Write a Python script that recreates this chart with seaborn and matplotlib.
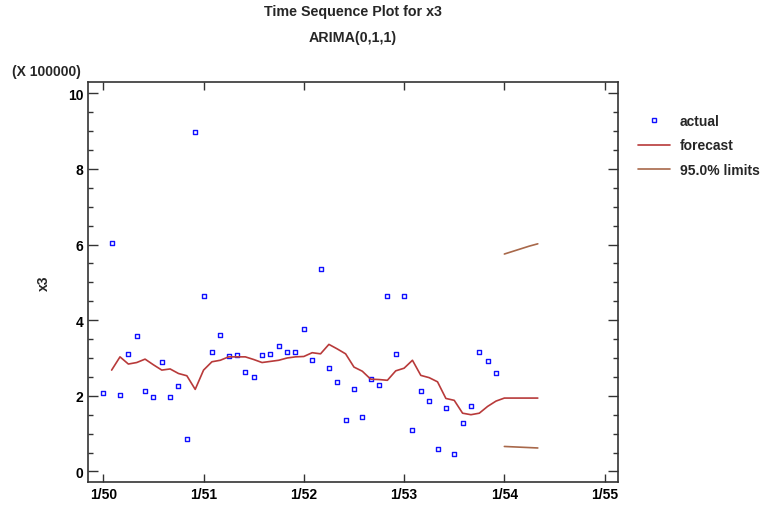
import numpy as np
import pandas as pd
import matplotlib
matplotlib.use("Agg")
import matplotlib.pyplot as plt
from matplotlib.lines import Line2D
from matplotlib.ticker import MultipleLocator, FixedLocator
import seaborn as sns

# ---- data (values in units of 100000), month index 0 = 1/50 ----
actual = [2.07, 6.05, 2.01, 3.10, 3.58, 2.12, 1.96, 2.90, 1.96, 2.26, 0.85, 8.99,
          4.65, 3.17, 3.61, 3.04, 3.07, 2.64, 2.51, 3.07, 3.10, 3.33, 3.17, 3.15,
          3.76, 2.96, 5.36, 2.74, 2.37, 1.36, 2.17, 1.44, 2.45, 2.28, 4.65, 3.10,
          4.63, 1.10, 2.12, 1.86, 0.59, 1.69, 0.46, 1.28, 1.72, 3.15, 2.93, 2.59]
forecast = [2.68, 3.03, 2.84, 2.88, 2.97, 2.82, 2.68, 2.71, 2.59, 2.53, 2.17,
            2.68, 2.90, 2.94, 3.03, 3.03, 3.03, 2.96, 2.88, 2.91, 2.94, 3.00, 3.03,
            3.04, 3.14, 3.11, 3.36, 3.24, 3.11, 2.76, 2.65, 2.44, 2.43, 2.41, 2.66,
            2.73, 2.94, 2.54, 2.48, 2.37, 1.93, 1.88, 1.54, 1.50, 1.54, 1.72, 1.86,
            1.94, 1.94, 1.94, 1.94, 1.94]          # months 1..52
upper = [5.75, 5.82, 5.89, 5.96, 6.02]             # months 48..52
lower = [0.66, 0.65, 0.64, 0.63, 0.62]             # months 48..52
tick_labels = ["1/50", "1/51", "1/52", "1/53", "1/54", "1/55"]

df_act = pd.DataFrame({"month": np.arange(len(actual)), "x3": actual})
df_fc = pd.DataFrame({"month": np.arange(1, 1 + len(forecast)), "x3": forecast})
lim_months = np.arange(48, 48 + len(upper))
df_lim = pd.DataFrame({"month": np.concatenate([lim_months, lim_months]),
                       "x3": upper + lower,
                       "which": ["upper"] * len(upper) + ["lower"] * len(lower)})

sns.set_style("white")
plt.rcParams["font.family"] = ["Liberation Sans", "DejaVu Sans"]
plt.rcParams["font.weight"] = "bold"

fig = plt.figure(figsize=(7.64, 5.10), dpi=100)
ax = fig.add_axes([88 / 764, 1 - 483 / 510, 530 / 764, 400 / 510])

c_act = "#1010ff"
c_fc = "#b83a3a"
c_lim = "#a8684a"

sns.lineplot(data=df_lim, x="month", y="x3", units="which", estimator=None,
             color=c_lim, lw=1.2, ax=ax, legend=False)
sns.lineplot(data=df_fc, x="month", y="x3", color=c_fc, lw=1.2, ax=ax, legend=False)
sns.scatterplot(data=df_act, x="month", y="x3", marker="s", s=6,
                facecolor="white", edgecolor=c_act, linewidth=1.0, ax=ax, legend=False)

ax.set_xlim(-1.83, 61.6)
ax.set_ylim(-0.28, 10.3)
ax.xaxis.set_major_locator(FixedLocator([0, 12, 24, 36, 48, 60]))
ax.set_xticklabels(tick_labels)
ax.yaxis.set_major_locator(MultipleLocator(2))
ax.yaxis.set_minor_locator(MultipleLocator(0.5))
ax.tick_params(axis="both", which="both", direction="in", top=True, right=True,
               left=True, bottom=True, labelsize=10, colors="#333333", labelcolor="black")
ax.tick_params(axis="y", which="major", length=7, width=1)
ax.tick_params(axis="y", which="minor", length=3.5, width=1)
ax.tick_params(axis="x", which="major", length=6, width=1)
for lab in ax.get_xticklabels() + ax.get_yticklabels():
    lab.set_fontweight("bold")
for sp in ax.spines.values():
    sp.set_color("#333333")
    sp.set_linewidth(1.2)
ax.set_xlabel("")
ax.set_ylabel("x3", fontsize=10, fontweight="bold")
ax.yaxis.set_label_coords((51 - 88) / 530, 0.5)

fig.text(353 / 764, 1 - 12 / 510, "Time Sequence Plot for x3", ha="center", va="center",
         fontsize=10.3, fontweight="bold")
fig.text(353 / 764, 1 - 38 / 510, "ARIMA(0,1,1)", ha="center", va="center",
         fontsize=10.3, fontweight="bold")
fig.text(46 / 764, 1 - 72 / 510, "(X 100000)", ha="center", va="center",
         fontsize=10, fontweight="bold")

handles = [Line2D([], [], ls="none", marker="s", ms=2.6, mfc="white", mec=c_act, mew=1.0),
           Line2D([], [], color=c_fc, lw=1.2),
           Line2D([], [], color=c_lim, lw=1.2)]
ax.legend(handles, ["actual", "forecast", "95.0% limits"], loc="upper left",
          bbox_to_anchor=((638 - 88) / 530, (483 - 115) / 400), frameon=False,
          borderaxespad=0, borderpad=0, handlelength=2.3, handletextpad=0.7,
          labelspacing=0.75, prop={"size": 10, "weight": "bold"})

fig.savefig("out.png", dpi=100)
